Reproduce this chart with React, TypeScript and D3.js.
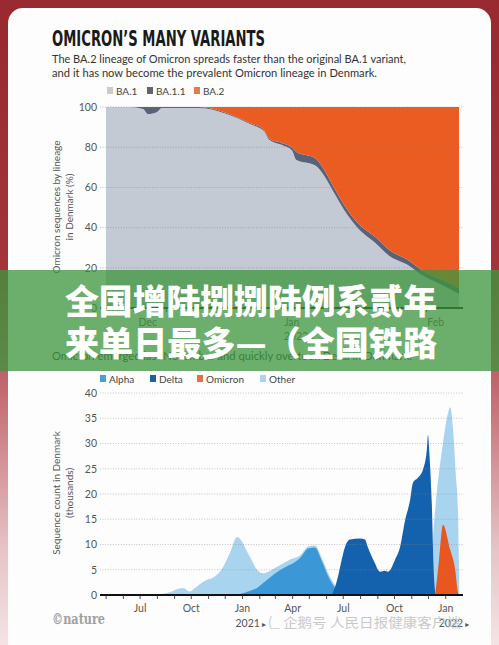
import React from 'react';
import * as d3 from 'd3';

// ---------- Chart 1: Omicron lineages (share, %) ----------
const lineageDates = ['2021-11-22','2021-11-27','2021-11-30','2021-12-01','2021-12-03','2021-12-04','2021-12-12','2021-12-18','2021-12-23','2021-12-26','2021-12-27','2021-12-30','2022-01-01','2022-01-02','2022-01-06','2022-01-08','2022-01-10','2022-01-13','2022-01-15','2022-01-19','2022-01-22','2022-01-26','2022-01-29','2022-02-01','2022-02-04','2022-02-06'];
const ba1Share = [100,100,99,96.5,97.5,99.5,99.5,96.5,91.5,88,84,81,78.5,73.6,71,65.7,57.7,46.3,40.3,32.3,25.9,21.4,16.4,12.9,9.5,7];
const ba11Share = [0,0,1,3.5,2.5,0.5,0.5,0.5,0.5,0.6,0.6,1,1.5,4,3.6,3,2.5,2.5,2.5,3,3,2.5,2.5,2.5,2.9,3];
const ba2Share = [0,0,0,0,0,0,0,3,8,11.4,15.4,18,20,22.4,25.4,31.3,39.8,51.2,57.2,64.7,71.1,76.1,81.1,84.6,87.6,90];
const lineageKeys = ['BA.1','BA.1.1','BA.2'];
const lineageColors = ['#c4cad3','#59627a','#ea5c22'];
const lineageLegendColors = ['#c7ccd3','#5e6470','#e8794a'];
const shareTicks = [0,20,40,60,80,100];
const lineageMonths: [string,string,string][] = [['2021-12-01','Dec',''],['2022-01-01','Jan','2022'],['2022-02-01','Feb','']];

// ---------- Chart 2: sequence counts (thousands) ----------
const otherSeries: [string, number][] = [['2020-04-20',0],['2020-07-10',0],['2020-08-15',0.3],['2020-09-16',1.4],['2020-09-28',0.7],['2020-10-10',1.6],['2020-10-29',3],['2020-11-09',3.4],['2020-11-27',5.5],['2020-12-10',8.5],['2020-12-22',11.5],['2021-01-14',7.6],['2021-01-27',5],['2021-02-07',4.3],['2021-03-04',5.6],['2021-03-27',7],['2021-04-14',7.8],['2021-04-29',9.6],['2021-05-11',9.8],['2021-05-24',7.2],['2021-06-07',3.6],['2021-06-16',2],['2021-07-04',0.6],['2021-07-22',0],['2021-12-04',0],['2021-12-09',11],['2021-12-14',18],['2021-12-27',30],['2022-01-05',36],['2022-01-09',37.2],['2022-01-14',33],['2022-01-19',24],['2022-01-23',17],['2022-01-26',0],['2022-02-01',0]];
const alphaSeries: [string, number][] = [['2020-12-20',0],['2021-01-14',0.8],['2021-01-27',1.4],['2021-02-12',2.8],['2021-03-01',4.3],['2021-03-20',5.6],['2021-04-03',6.4],['2021-04-14',7.3],['2021-04-29',9.2],['2021-05-11',9.4],['2021-05-24',6.6],['2021-06-07',3],['2021-06-16',1.5],['2021-07-04',0.5],['2021-07-22',0]];
const deltaSeries: [string, number][] = [['2021-06-10',0],['2021-06-16',1.5],['2021-07-08',10.5],['2021-07-13',11],['2021-07-31',11.2],['2021-08-09',11],['2021-08-14',9.5],['2021-08-26',6.5],['2021-09-05',4.6],['2021-09-14',4.8],['2021-09-19',4.6],['2021-10-02',7],['2021-10-11',9.5],['2021-10-20',14.8],['2021-10-29',18.8],['2021-11-03',22.2],['2021-11-12',23.2],['2021-11-21',24.8],['2021-11-28',28.7],['2021-11-30',31.7],['2021-12-03',27.3],['2021-12-07',18],['2021-12-10',6],['2021-12-14',0]];
const omicronSeries: [string, number][] = [['2021-12-13',0],['2021-12-20',7],['2021-12-27',13.9],['2022-01-09',9],['2022-01-18',5],['2022-01-23',0.5],['2022-01-25',0]];
const variantNames = ['Alpha','Delta','Omicron','Other'];
const variantColors = ['#3b97d6','#1462ad','#e8571f','#a9d4ef'];
const variantLegendColors = ['#4a9fd2','#1f5f9e','#e27050','#a9d3ee'];
const countTicks = [0,5,10,15,20,25,30,35,40];
const countMonths: [string,string,string][] = [['2020-07-01','Jul',''],['2020-10-01','Oct',''],['2021-01-01','Jan','2021'],['2021-04-01','Apr',''],['2021-07-01','Jul',''],['2021-10-01','Oct',''],['2022-01-01','Jan','2022']];

const SANS = "Lato, 'Open Sans', 'DejaVu Sans', sans-serif";
const parse = d3.timeParse('%Y-%m-%d');
const P = (s: string) => parse(s) as Date;

export default function App() {
  // chart 1 scales
  const x1 = d3.scaleTime().domain([P('2021-11-22'), P('2022-02-06')]).range([106, 459]);
  const y1 = d3.scaleLinear().domain([0, 100]).range([308, 107]);
  const rows = lineageDates.map((d, i) => ({ date: P(d), 'BA.1': ba1Share[i], 'BA.1.1': ba11Share[i], 'BA.2': ba2Share[i] }));
  const stacked = d3.stack<any>().keys(lineageKeys)(rows as any);
  const area1 = d3.area<any>()
    .x((d: any) => x1(d.data.date))
    .y0((d: any) => y1(d[0]))
    .y1((d: any) => y1(d[1]))
    .curve(d3.curveMonotoneX);
  const weekTicks = d3.timeWeek.range(P('2021-11-23'), P('2022-02-06'));

  // chart 2 scales
  const x2 = d3.scaleTime().domain([P('2020-04-20'), P('2022-02-01')]).range([100, 463]);
  const y2 = d3.scaleLinear().domain([0, 40]).range([595, 393]);
  const area2 = d3.area<[string, number]>()
    .x(d => x2(P(d[0])))
    .y0(y2(0))
    .y1(d => y2(d[1]))
    .curve(d3.curveMonotoneX);
  const seriesInOrder: [[string, number][], string][] = [
    [otherSeries, variantColors[3]],
    [alphaSeries, variantColors[0]],
    [deltaSeries, variantColors[1]],
    [omicronSeries, variantColors[2]],
  ];
  const monthTicks = d3.timeMonth.range(P('2020-05-01'), P('2022-02-01'));

  const legend1X = [107, 147, 194];
  const legend2X = [100, 150, 197, 260];

  return (
    <svg width={499} height={645} style={{ position: 'absolute', left: 0, top: 0, display: 'block' }}>
      <defs>
        <linearGradient id="frame" x1="0" y1="0" x2="0" y2="1">
          <stop offset="0" stopColor="#982a2f" />
          <stop offset="0.42" stopColor="#a3343a" />
          <stop offset="0.62" stopColor="#c56f76" />
          <stop offset="0.85" stopColor="#e6c3c6" />
          <stop offset="1" stopColor="#f4e4e5" />
        </linearGradient>
      </defs>
      <rect x={0} y={0} width={499} height={645} fill="url(#frame)" />
      <rect x={8} y={8} width={483} height={680} rx={15} fill="#fdfdfd" />

      {/* Title */}
      <text x={52} y={46} fontFamily="'Liberation Sans Narrow', 'DejaVu Sans Condensed', sans-serif" fontWeight={700} fontSize={21} fill="#1a1a1a" textLength={213} lengthAdjust="spacingAndGlyphs">OMICRON’S MANY VARIANTS</text>
      <text x={52} y={63} fontFamily={SANS} fontSize={10.5} fill="#333" textLength={354} lengthAdjust="spacingAndGlyphs">The BA.2 lineage of Omicron spreads faster than the original BA.1 variant,</text>
      <text x={52} y={77} fontFamily={SANS} fontSize={10.5} fill="#333" textLength={325} lengthAdjust="spacingAndGlyphs">and it has now become the prevalent Omicron lineage in Denmark.</text>

      {/* Legend 1 */}
      {lineageKeys.map((k, i) => (
        <g key={k}>
          <rect x={legend1X[i]} y={87} width={6} height={7} fill={lineageLegendColors[i]} />
          <text x={legend1X[i] + 9} y={94.5} fontFamily={SANS} fontSize={10} fill="#444">{k}</text>
        </g>
      ))}

      {/* Chart 1 areas */}
      {stacked.map((s, i) => (
        <path key={lineageKeys[i]} d={area1(s as any) || ''} fill={lineageColors[i]} />
      ))}
      {/* Chart 1 gridlines */}
      {shareTicks.filter(t => t > 0).map(t => (
        <line key={t} x1={100} x2={463} y1={y1(t)} y2={y1(t)} stroke="#8a8a8a" strokeWidth={0.8} strokeDasharray="1,1.6" opacity={0.7} />
      ))}
      {shareTicks.map(t => (
        <text key={t} x={97} y={y1(t) + 3.8} textAnchor="end" fontFamily={SANS} fontSize={10.5} fill="#555">{t}</text>
      ))}
      <line x1={100} x2={463} y1={308} y2={308} stroke="#111" strokeWidth={1.8} />
      {weekTicks.map((d, i) => (
        <line key={i} x1={x1(d)} x2={x1(d)} y1={308} y2={312} stroke="#111" strokeWidth={0.8} />
      ))}
      {lineageMonths.map(([d, m, yr]) => (
        <g key={d}>
          <text x={x1(P(d))} y={326} textAnchor="middle" fontFamily={SANS} fontSize={10.5} fill="#555">{m}</text>
          {yr && <text x={x1(P(d)) - 8} y={340} fontFamily={SANS} fontSize={10.5} fill="#555">{yr}<tspan fontSize={8}> ▸</tspan></text>}
        </g>
      ))}
      <text transform="translate(60,207) rotate(-90)" textAnchor="middle" fontFamily={SANS} fontSize={10} fill="#555">Omicron sequences by lineage</text>
      <text transform="translate(73,207) rotate(-90)" textAnchor="middle" fontFamily={SANS} fontSize={10} fill="#555">in Denmark (%)</text>

      {/* Second subtitle */}
      <text x={52} y={360} fontFamily={SANS} fontSize={10.5} fill="#333" textLength={360} lengthAdjust="spacingAndGlyphs">Omicron emerged last November and quickly overtook Delta in Denmark.</text>

      {/* Legend 2 */}
      {variantNames.map((k, i) => (
        <g key={k}>
          <rect x={legend2X[i]} y={375} width={6} height={7} fill={variantLegendColors[i]} />
          <text x={legend2X[i] + 9} y={383} fontFamily={SANS} fontSize={10} fill="#444">{k}</text>
        </g>
      ))}

      {/* Chart 2 areas */}
      {seriesInOrder.map(([s, c], i) => (
        <path key={i} d={area2(s) || ''} fill={c} />
      ))}
      {countTicks.filter(t => t > 0).map(t => (
        <line key={t} x1={100} x2={463} y1={y2(t)} y2={y2(t)} stroke="#8a8a8a" strokeWidth={0.8} strokeDasharray="1,1.6" opacity={0.6} />
      ))}
      {countTicks.map(t => (
        <text key={t} x={97} y={y2(t) + 3.8} textAnchor="end" fontFamily={SANS} fontSize={10.5} fill="#555">{t}</text>
      ))}
      <line x1={100} x2={463} y1={595} y2={595} stroke="#111" strokeWidth={1.8} />
      {monthTicks.map((d, i) => (
        <line key={i} x1={x2(d)} x2={x2(d)} y1={595} y2={599} stroke="#222" strokeWidth={0.8} />
      ))}
      {countMonths.map(([d, m, yr]) => (
        <g key={d}>
          <text x={x2(P(d))} y={612} textAnchor="middle" fontFamily={SANS} fontSize={10.5} fill="#555">{m}</text>
          {yr && <text x={x2(P(d)) - 7} y={627} fontFamily={SANS} fontSize={10.5} fill="#555">{yr}<tspan fontSize={8}> ▸</tspan></text>}
        </g>
      ))}
      <text transform="translate(60,493) rotate(-90)" textAnchor="middle" fontFamily={SANS} fontSize={10} fill="#555">Sequence count in Denmark</text>
      <text transform="translate(73,493) rotate(-90)" textAnchor="middle" fontFamily={SANS} fontSize={10} fill="#555">(thousands)</text>

      <text x={52} y={624} fontFamily="'DejaVu Serif', 'Liberation Serif', serif" fontWeight={700} fontSize={14} fill="#a0a0a0" textLength={53} lengthAdjust="spacingAndGlyphs">©nature</text>

      {/* Watermark */}
      <text x={268} y={627} fontFamily="'Noto Sans CJK SC', sans-serif" fontSize={13} fill="#bdbdbd" opacity={0.8}>(_</text>
      <text x={283} y={627} fontFamily="'Noto Sans CJK SC', sans-serif" fontSize={13} fill="#bdbdbd" opacity={0.8} textLength={178} lengthAdjust="spacingAndGlyphs">企鹅号 人民日报健康客户端</text>

      {/* Green overlay band */}
      <rect x={0} y={270} width={499} height={101} fill="rgb(62,150,62)" opacity={0.76} />
      <text x={65} y={314} fontFamily="'Noto Sans CJK SC', sans-serif" fontWeight={900} fontSize={34} fill="#ffffff" textLength={372} lengthAdjust="spacingAndGlyphs">全国增陆捌捌陆例系贰年</text>
      <text x={65} y={356} fontFamily="'Noto Sans CJK SC', sans-serif" fontWeight={900} fontSize={34} fill="#ffffff" textLength={372} lengthAdjust="spacingAndGlyphs">来单日最多—（全国铁路</text>
    </svg>
  );
}
